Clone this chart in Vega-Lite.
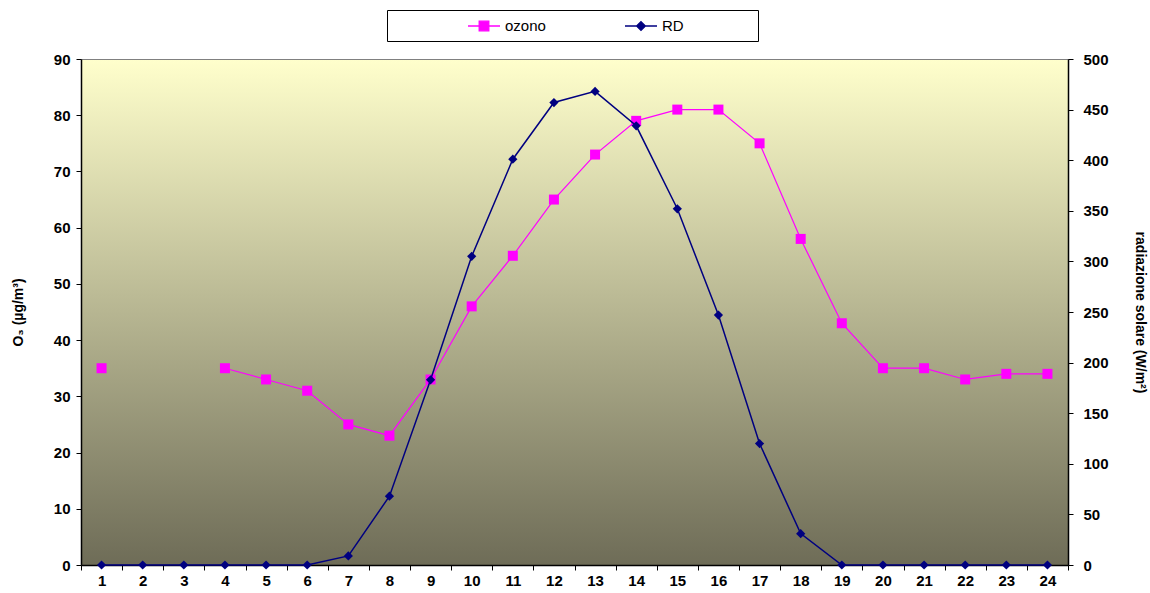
{
  "$schema": "https://vega.github.io/schema/vega-lite/v6.json",
  "autosize": {"type": "none"},
  "width": 987,
  "height": 506,
  "padding": {"left": 81, "top": 59, "right": 82, "bottom": 28},
  "background": "white",
  "view": {
    "stroke": "#808080",
    "strokeWidth": 1,
    "fill": {
      "gradient": "linear",
      "x1": 0, "y1": 0, "x2": 0, "y2": 1,
      "stops": [
        {"offset": 0, "color": "#FFFFCC"},
        {"offset": 1, "color": "#6E6C57"}
      ]
    }
  },
  "config": {
    "font": "Liberation Sans",
    "axis": {
      "labelFont": "Liberation Sans",
      "labelFontWeight": "bold",
      "labelFontSize": 15,
      "labelColor": "black",
      "titleFont": "Liberation Sans",
      "titleFontWeight": "bold",
      "titleFontSize": 14,
      "titleColor": "black",
      "domainColor": "black",
      "domainWidth": 1.5,
      "tickColor": "black",
      "tickSize": 5,
      "grid": false
    }
  },
  "data": {
    "values": [
      {"h": 1, "s": "ozono", "v": 35}, {"h": 2, "s": "ozono", "v": null}, {"h": 3, "s": "ozono", "v": null},
      {"h": 4, "s": "ozono", "v": 35}, {"h": 5, "s": "ozono", "v": 33}, {"h": 6, "s": "ozono", "v": 31},
      {"h": 7, "s": "ozono", "v": 25}, {"h": 8, "s": "ozono", "v": 23}, {"h": 9, "s": "ozono", "v": 33},
      {"h": 10, "s": "ozono", "v": 46}, {"h": 11, "s": "ozono", "v": 55}, {"h": 12, "s": "ozono", "v": 65},
      {"h": 13, "s": "ozono", "v": 73}, {"h": 14, "s": "ozono", "v": 79}, {"h": 15, "s": "ozono", "v": 81},
      {"h": 16, "s": "ozono", "v": 81}, {"h": 17, "s": "ozono", "v": 75}, {"h": 18, "s": "ozono", "v": 58},
      {"h": 19, "s": "ozono", "v": 43}, {"h": 20, "s": "ozono", "v": 35}, {"h": 21, "s": "ozono", "v": 35},
      {"h": 22, "s": "ozono", "v": 33}, {"h": 23, "s": "ozono", "v": 34}, {"h": 24, "s": "ozono", "v": 34},
      {"h": 1, "s": "RD", "v": 0}, {"h": 2, "s": "RD", "v": 0}, {"h": 3, "s": "RD", "v": 0},
      {"h": 4, "s": "RD", "v": 0}, {"h": 5, "s": "RD", "v": 0}, {"h": 6, "s": "RD", "v": 0},
      {"h": 7, "s": "RD", "v": 9}, {"h": 8, "s": "RD", "v": 68}, {"h": 9, "s": "RD", "v": 183},
      {"h": 10, "s": "RD", "v": 305}, {"h": 11, "s": "RD", "v": 401}, {"h": 12, "s": "RD", "v": 457},
      {"h": 13, "s": "RD", "v": 468}, {"h": 14, "s": "RD", "v": 434}, {"h": 15, "s": "RD", "v": 352},
      {"h": 16, "s": "RD", "v": 247}, {"h": 17, "s": "RD", "v": 120}, {"h": 18, "s": "RD", "v": 31},
      {"h": 19, "s": "RD", "v": 0}, {"h": 20, "s": "RD", "v": 0}, {"h": 21, "s": "RD", "v": 0},
      {"h": 22, "s": "RD", "v": 0}, {"h": 23, "s": "RD", "v": 0}, {"h": 24, "s": "RD", "v": 0}
    ]
  },
  "encoding": {
    "x": {
      "field": "h",
      "type": "ordinal",
      "scale": {"type": "band", "paddingInner": 0, "paddingOuter": 0},
      "axis": {"title": null, "labelAngle": 0, "tickBand": "extent", "labelPadding": 3}
    },
    "color": {
      "field": "s",
      "type": "nominal",
      "scale": {"domain": ["ozono", "RD"], "range": ["#FF00FF", "#000080"]},
      "legend": {
        "orient": "none",
        "legendX": 306,
        "legendY": -49,
        "direction": "horizontal",
        "title": "\u200b\u00a0\u00a0\u00a0\u00a0\u00a0\u00a0\u00a0\u00a0\u00a0\u00a0\u00a0\u00a0\u00a0\u00a0\u00a0\u00a0\u00a0\u00a0\u00a0\u200b",
        "titleOrient": "left",
        "titleFont": "Liberation Sans",
        "titleFontWeight": "normal",
        "titleFontSize": 15,
        "titlePadding": 1,
        "strokeColor": "black",
        "fillColor": "white",
        "padding": 7,
        "columnPadding": 76,
        "labelFont": "Liberation Sans",
        "labelFontSize": 15,
        "labelColor": "black",
        "labelOffset": 12,
        "symbolSize": 256,
        "symbolStrokeWidth": 1.3,
        "labelExpr": "datum.label === 'RD' ? 'RD\u00a0\u00a0\u00a0\u00a0\u00a0\u00a0\u00a0\u00a0\u00a0\u00a0\u00a0\u00a0\u00a0\u00a0\u00a0\u00a0\u200b' : datum.label",
        "encode": {
          "symbols": {
            "update": {
              "shape": {"signal": "datum.value === 'ozono' ? 'M-2,0H2M-0.6,-0.6H0.6V0.6H-0.6Z' : 'M-2,0H2M0,-0.55L0.55,0L0,0.55L-0.55,0Z'"},
              "fill": {"signal": "datum.value === 'ozono' ? '#FF00FF' : '#000080'"},
              "stroke": {"signal": "datum.value === 'ozono' ? '#FF00FF' : '#000080'"},
              "opacity": {"value": 1},
              "fillOpacity": {"value": 1},
              "strokeOpacity": {"value": 1}
            }
          }
        }
      }
    }
  },
  "layer": [
    {
      "transform": [{"filter": "datum.s === 'ozono'"}],
      "mark": {"type": "line", "strokeWidth": 1.2, "point": {"shape": "square", "size": 100, "filled": true, "opacity": 1}},
      "encoding": {
        "y": {
          "field": "v",
          "type": "quantitative",
          "scale": {"domain": [0, 90], "nice": false},
          "axis": {"title": "O₃ (µg/m³)", "values": [0, 10, 20, 30, 40, 50, 60, 70, 80, 90], "titlePadding": 28, "labelPadding": 6}
        }
      }
    },
    {
      "transform": [{"filter": "datum.s === 'RD'"}],
      "mark": {"type": "line", "strokeWidth": 1.5, "point": {"shape": "diamond", "size": 85, "filled": true, "opacity": 1}},
      "encoding": {
        "y": {
          "field": "v",
          "type": "quantitative",
          "scale": {"domain": [0, 500], "nice": false},
          "axis": {"orient": "right", "title": "radiazione solare  (W/m²)", "values": [0, 50, 100, 150, 200, 250, 300, 350, 400, 450, 500], "titlePadding": 24, "labelPadding": 10}
        }
      }
    }
  ],
  "resolve": {"scale": {"y": "independent"}}
}
